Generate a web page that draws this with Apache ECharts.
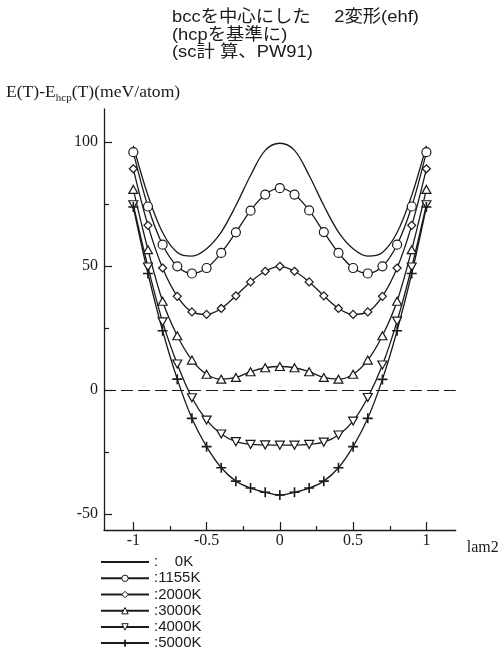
<!DOCTYPE html>
<html>
<head>
<meta charset="utf-8">
<script src="https://cdn.jsdelivr.net/npm/echarts@6/dist/echarts.min.js"></script>
<style>
  html, body { margin: 0; padding: 0; background: #fff; }
  #chart { width: 503px; height: 653px; }
</style>
</head>
<body>
<div id="chart"></div>
<script>
// Deformation parameter lam2 (bcc at 0)
const lam = [-1, -0.9, -0.8, -0.7, -0.6, -0.5, -0.4, -0.3, -0.2, -0.1, 0,
             0.1, 0.2, 0.3, 0.4, 0.5, 0.6, 0.7, 0.8, 0.9, 1];

// E(T) - E_hcp(T) in meV/atom for each temperature
const e0K    = [98.5, 78.5, 63.5, 55.5, 54.0, 57.0, 63.7, 74.4, 86.5, 96.6, 99.5,
                96.6, 86.5, 74.4, 63.7, 57.0, 54.0, 55.5, 63.5, 78.5, 98.5];
const e1155K = [95.9, 74.0, 58.6, 49.9, 47.0, 49.2, 55.3, 63.6, 72.3, 78.8, 81.4,
                78.8, 72.4, 63.7, 55.3, 49.2, 47.0, 49.9, 58.6, 74.0, 95.9];
const e2000K = [89.2, 66.4, 49.2, 37.8, 31.5, 30.5, 32.9, 38.0, 43.6, 47.9, 49.9,
                47.9, 43.6, 38.0, 32.9, 30.5, 31.5, 37.8, 49.2, 66.4, 89.2];
const e3000K = [80.9, 56.6, 35.8, 21.9, 12.1, 6.4, 4.4, 5.1, 7.4, 9.0, 9.5,
                9.0, 7.4, 5.1, 4.4, 6.4, 12.1, 21.9, 35.8, 56.6, 80.9];
const e4000K = [74.7, 49.6, 27.5, 10.5, -3.1, -12.1, -17.7, -20.8, -21.9, -22.1, -22.2,
                -22.2, -21.9, -21.0, -18.1, -12.5, -3.0, 10.1, 27.8, 49.6, 74.7];
const e5000K = [73.8, 47.0, 23.9, 4.4, -11.4, -22.8, -31.3, -36.7, -39.5, -41.2, -42.3,
                -41.2, -39.5, -36.7, -31.3, -22.8, -11.4, 4.3, 23.9, 47.0, 73.8];

const seriesNames = ['0K', '1155K', '2000K', '3000K', '4000K', '5000K'];

// Axis tick values
const xMajorTicks = [-1, -0.5, 0, 0.5, 1];
const xMinorTicks = [-0.75, -0.25, 0.25, 0.75];
const yMajorTicks = [-50, 0, 50, 100];
const yMinorTicks = [-25, 25, 75];

const INK = '#1a1a1a';
const SERIF = '"Liberation Serif", "Times New Roman", serif';
const SANS = '"Liberation Sans", Arial, "Noto Sans CJK JP", sans-serif';
const PLUS = 'path://M4.2,0H5.8V4.2H10V5.8H5.8V10H4.2V5.8H0V4.2H4.2Z';

function pairs(values) {
  return lam.map((x, i) => [x, values[i]]);
}

function curve(name, values, symbol, size, rotate, filled) {
  return {
    type: 'line',
    name: name,
    data: pairs(values),
    smooth: 0.35,
    symbol: symbol,
    symbolSize: size,
    symbolRotate: rotate || 0,
    showSymbol: symbol !== 'none',
    lineStyle: { color: INK, width: 1.3 },
    itemStyle: filled
      ? { color: INK, borderWidth: 0 }
      : { color: '#fff', borderColor: INK, borderWidth: 1.2 },
    emphasis: { disabled: true },
    z: 3
  };
}

const series = [
  curve('0K', e0K, 'none', 0),
  curve('1155K', e1155K, 'circle', 9),
  curve('2000K', e2000K, 'diamond', 8),
  curve('3000K', e3000K, 'triangle', [9, 8]),
  curve('4000K', e4000K, 'triangle', [9, 8], 180),
  curve('5000K', e5000K, PLUS, 10, 0, true)
];

// dashed reference line at zero
series[0].markLine = {
  silent: true,
  symbol: 'none',
  label: { show: false },
  lineStyle: { color: INK, width: 1.2, type: [12, 5] },
  data: [{ yAxis: 0 }]
};

const X_MIN = -1.2, X_MAX = 1.2;
const Y_MIN = -56.4, Y_MAX = 113.3;

// legend entries: plain line for 0K, a heavier cross for 5000K
function legendEntry(n) {
  if (n === '0K') return { name: n, itemStyle: { opacity: 0 } };
  if (n === '5000K') return { name: n, itemStyle: { borderColor: INK, borderWidth: 0.8 } };
  return { name: n, itemStyle: { borderWidth: 1 } };
}

const chart = echarts.init(document.getElementById('chart'), null, { renderer: 'canvas' });

chart.setOption({
  animation: false,
  backgroundColor: '#fff',
  grid: { left: 104, right: 47.3, top: 109, bottom: 123, containLabel: false },
  xAxis: [
    {
      type: 'value', min: X_MIN, max: X_MAX,
      name: 'lam2', nameLocation: 'end', nameGap: 11,
      nameTextStyle: { fontFamily: SERIF, fontSize: 16, color: INK, verticalAlign: 'top', padding: [10, 0, 0, 0] },
      axisLine: { show: true, onZero: false, lineStyle: { color: INK, width: 1.3 } },
      axisTick: { show: true, inside: true, length: 8, customValues: xMajorTicks, lineStyle: { color: INK, width: 1.2 } },
      axisLabel: { customValues: xMajorTicks, margin: 3, fontFamily: SERIF, fontSize: 16, color: INK,
                   formatter: v => String(v) },
      splitLine: { show: false }
    },
    {
      type: 'value', min: X_MIN, max: X_MAX, position: 'bottom',
      axisLine: { show: false, onZero: false },
      axisTick: { show: true, inside: true, length: 4, customValues: xMinorTicks, lineStyle: { color: INK, width: 1.2 } },
      axisLabel: { show: false },
      splitLine: { show: false }
    }
  ],
  yAxis: [
    {
      type: 'value', min: Y_MIN, max: Y_MAX,
      axisLine: { show: true, onZero: false, lineStyle: { color: INK, width: 1.3 } },
      axisTick: { show: true, inside: true, length: 8, customValues: yMajorTicks, lineStyle: { color: INK, width: 1.2 } },
      axisLabel: { customValues: yMajorTicks, margin: 6, fontFamily: SERIF, fontSize: 16, color: INK },
      splitLine: { show: false }
    },
    {
      type: 'value', min: Y_MIN, max: Y_MAX, position: 'left',
      axisLine: { show: false, onZero: false },
      axisTick: { show: true, inside: true, length: 5, customValues: yMinorTicks, lineStyle: { color: INK, width: 1.2 } },
      axisLabel: { show: false },
      splitLine: { show: false }
    }
  ],
  legend: {
    orient: 'vertical',
    left: 100,
    top: 554,
    padding: 0,
    itemWidth: 48,
    itemHeight: 8,
    itemGap: 0,
    itemTextGap: 6,
    selectedMode: false,
    textStyle: { fontFamily: SANS, fontSize: 15, color: INK, lineHeight: 16.2 },
    formatter: n => (n === '0K' ? ':    0K' : ':' + n),
    data: seriesNames.map(legendEntry)
  },
  graphic: [
    {
      type: 'text',
      left: 172,
      top: 9,
      scaleX: 1.08,
      style: {
        text: 'bccを中心にした　 2変形(ehf)\n(hcpを基準に)\n(sc計 算、PW91)',
        fontFamily: SANS,
        fontSize: 17,
        lineHeight: 17.5,
        fill: INK
      }
    },
    {
      type: 'text',
      left: 6,
      top: 85,
      scaleX: 1.1,
      style: {
        text: '{a|E(T)-E}{s|hcp}{a|(T)(meV/atom)}',
        fill: INK,
        rich: {
          a: { fontFamily: SERIF, fontSize: 16, lineHeight: 20, fill: INK },
          s: { fontFamily: SERIF, fontSize: 10, lineHeight: 10, verticalAlign: 'bottom', fill: INK }
        }
      }
    }
  ],
  series: series
});
</script>
</body>
</html>
